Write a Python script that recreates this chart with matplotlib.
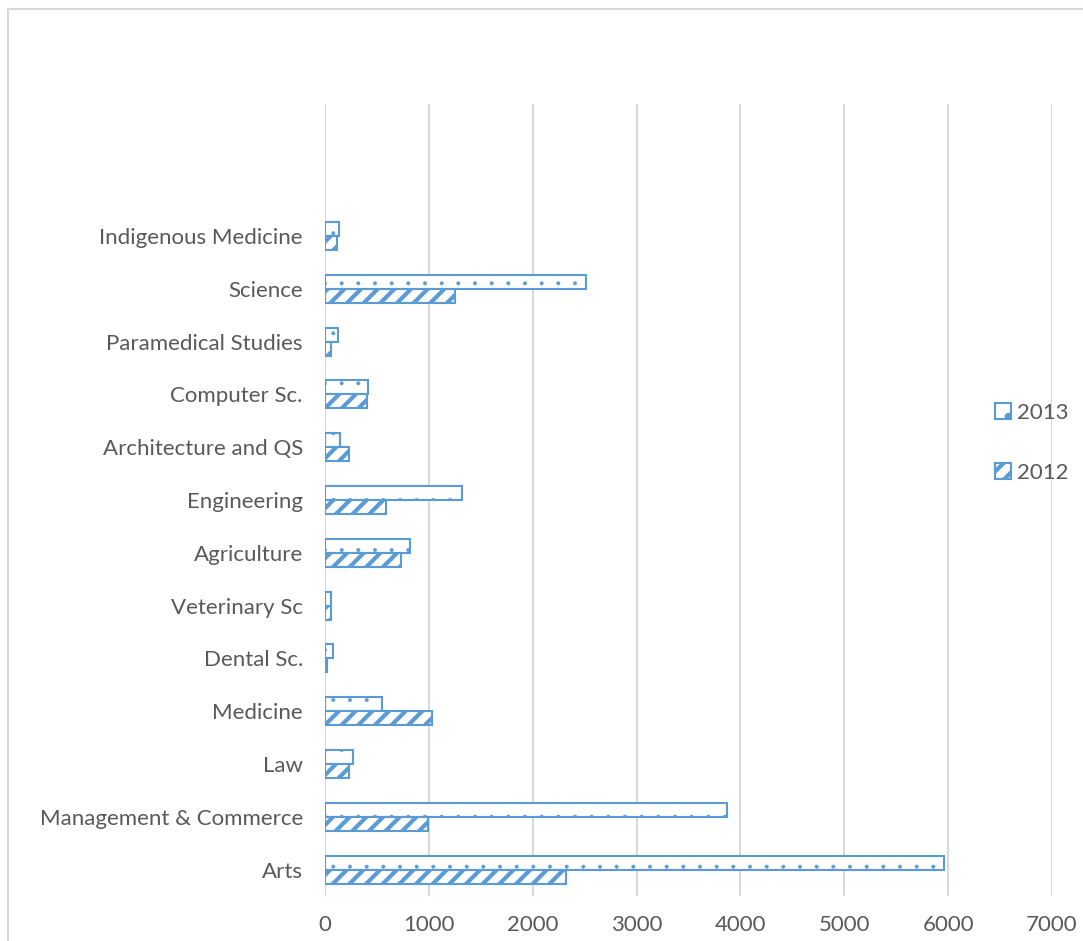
import matplotlib.pyplot as plt
import matplotlib.patches as mpatches
import numpy as np

categories = ["Arts", "Management & Commerce", "Law", "Medicine", "Dental Sc.",
              "Veterinary Sc", "Agriculture", "Engineering", "Architecture and QS",
              "Computer Sc.", "Paramedical Studies", "Science", "Indigenous Medicine"]
values_2013 = [5960, 3875, 270, 550, 75, 60, 820, 1320, 145, 415, 125, 2515, 135]
values_2012 = [2320, 990, 230, 1030, 15, 55, 730, 590, 230, 400, 60, 1250, 115]
xticks = [0, 1000, 2000, 3000, 4000, 5000, 6000, 7000]

blue = "#5B9BD5"
grey_text = "#595959"
grid_col = "#D9D9D9"

plt.rcParams['font.family'] = ['Lato', 'DejaVu Sans']
plt.rcParams['hatch.linewidth'] = 3.0
plt.rcParams['hatch.color'] = blue

fig = plt.figure(figsize=(10.83, 9.41), dpi=100)
ax = fig.add_axes([325 / 1083, 45 / 941, 727 / 1083, 792 / 941])

y = np.arange(len(categories))
h = 0.265
b13 = ax.barh(y + h / 2, values_2013, height=h, color="white", edgecolor=blue,
              linewidth=1.5, label="2013", zorder=3)
b12 = ax.barh(y - h / 2, values_2012, height=h, color="white", edgecolor=blue,
              linewidth=1.5, hatch="//", label="2012", zorder=3)
for p in b13:
    p.set_hatch(".")
    p.set_hatch_linewidth(0.4)

ax.set_xlim(0, 7000)
ax.set_ylim(-0.5, 14.5)
ax.set_xticks(xticks)
ax.set_yticks(y)
ax.set_yticklabels(categories)
ax.xaxis.grid(True, color=grid_col, linewidth=1.5, zorder=0)
ax.set_axisbelow(True)
for s in ax.spines.values():
    s.set_visible(False)
ax.tick_params(axis="both", length=0, labelsize=16, labelcolor=grey_text)
ax.tick_params(axis="x", pad=14)
ax.tick_params(axis="y", pad=16)

fig.legend(handles=[b13, b12], labels=["2013", "2012"], loc="center left",
           bbox_to_anchor=(975 / 1083, 1 - 443 / 941), frameon=False,
           fontsize=16, labelcolor=grey_text, handlelength=0.7, handleheight=0.7,
           handletextpad=0.3, labelspacing=1.8)

# chart border (partly cropped in the original)
fig.add_artist(mpatches.Rectangle((8 / 1083, -0.05), 1.2, 1 - 9 / 941 + 0.05,
                                  transform=fig.transFigure, fill=False,
                                  edgecolor=grid_col, linewidth=1.5))

fig.savefig("out.png", dpi=100)
